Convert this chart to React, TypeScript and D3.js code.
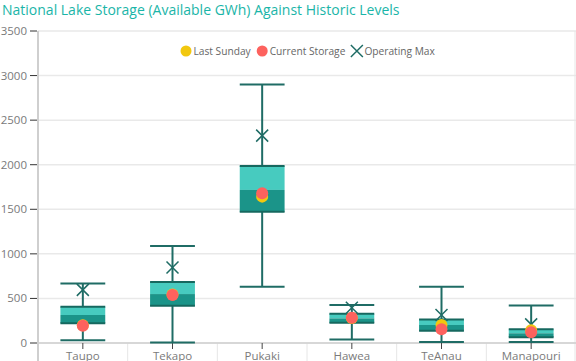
import React, { useEffect, useRef } from "react";
import * as d3 from "d3";

const lakes = ["Taupo", "Tekapo", "Pukaki", "Hawea", "TeAnau", "Manapouri"];
const whiskerMin = [30, 5, 632, 40, 11, 11];
const q1 = [221, 418, 1473, 227, 138, 64];
const medianVals = [314, 549, 1717, 276, 202, 109];
const q3 = [407, 685, 1986, 328, 265, 153];
const whiskerMax = [667, 1088, 2900, 426, 631, 422];
const lastSunday = [200, 545, 1642, 280, 202, 142];
const currentStorage = [194, 538, 1680, 283, 153, 120];
const operatingMax = [596, 848, 2326, 395, 314, 209];
const yTicks = [0, 500, 1000, 1500, 2000, 2500, 3000, 3500];
const legendItems = ["Last Sunday", "Current Storage", "Operating Max"];

const W = 576;
const H = 361;
const M = { left: 38, right: 0, top: 31, bottom: 18 };

const COL_LIGHT = "#47cbbf";
const COL_DARK = "#1b9489";
const COL_LINE = "#1f6c65";
const COL_RED = "#fd625e";
const COL_YEL = "#f2c80f";
const FONT = "'Open Sans', 'Noto Sans', sans-serif";

export default function App() {
  const ref = useRef<SVGSVGElement>(null);

  useEffect(() => {
    const svg = d3.select(ref.current);
    svg.selectAll("*").remove();

    const x = d3.scaleBand().domain(lakes).range([M.left, W - M.right]).padding(0);
    const y = d3.scaleLinear().domain([0, 3500]).range([H - M.bottom, M.top]);
    const bw = x.bandwidth() * 0.5;

    // title
    svg.append("text")
      .attr("x", 2).attr("y", 15)
      .attr("font-family", FONT).attr("font-size", 14)
      .attr("fill", "#1ab5a8")
      .text("National Lake Storage (Available GWh) Against Historic Levels");

    // gridlines
    svg.append("g").selectAll("line").data(yTicks).join("line")
      .attr("x1", M.left).attr("x2", W)
      .attr("y1", (d) => y(d)).attr("y2", (d) => y(d))
      .attr("stroke", "#e9e9e9").attr("stroke-width", 1.5);

    // separators below axis
    svg.append("g").selectAll("line").data(lakes.slice(1)).join("line")
      .attr("x1", (d) => x(d)!).attr("x2", (d) => x(d)!)
      .attr("y1", y(0)).attr("y2", H)
      .attr("stroke", "#e6e6e6").attr("stroke-width", 1);
    svg.append("line")
      .attr("x1", W - 1).attr("x2", W - 1).attr("y1", y(3500)).attr("y2", H)
      .attr("stroke", "#e6e6e6");

    // y axis
    const ya = svg.append("g");
    ya.append("line").attr("x1", M.left).attr("x2", M.left)
      .attr("y1", y(3500)).attr("y2", H)
      .attr("stroke", "#cfcfcf").attr("stroke-width", 2);
    ya.selectAll("line.t").data(yTicks).join("line").attr("class", "t")
      .attr("x1", 30).attr("x2", 37)
      .attr("y1", (d) => y(d)).attr("y2", (d) => y(d))
      .attr("stroke", "#333").attr("stroke-width", 1);
    ya.selectAll("text").data(yTicks).join("text")
      .attr("x", 27).attr("y", (d) => y(d))
      .attr("dy", "0.35em").attr("text-anchor", "end")
      .attr("font-family", FONT).attr("font-size", 11.5).attr("fill", "#7a7a7a")
      .text((d) => String(d));

    // x axis
    svg.append("line").attr("x1", M.left).attr("x2", W)
      .attr("y1", y(0)).attr("y2", y(0)).attr("stroke", "#cfcfcf").attr("stroke-width", 1.5);
    svg.append("g").selectAll("line").data(lakes).join("line")
      .attr("x1", (d) => x(d)! + x.bandwidth() / 2).attr("x2", (d) => x(d)! + x.bandwidth() / 2)
      .attr("y1", y(0)).attr("y2", y(0) + 6).attr("stroke", "#444");
    svg.append("g").selectAll("text").data(lakes).join("text")
      .attr("x", (d) => x(d)! + x.bandwidth() / 2).attr("y", 359.5)
      .attr("text-anchor", "middle")
      .attr("font-family", FONT).attr("font-size", 11.5).attr("fill", "#7a7a7a")
      .text((d) => d);

    // boxes
    const g = svg.append("g");
    lakes.forEach((lake, i) => {
      const cx = x(lake)! + x.bandwidth() / 2;
      const gg = g.append("g");
      gg.append("line").attr("x1", cx).attr("x2", cx)
        .attr("y1", y(whiskerMax[i])).attr("y2", y(whiskerMin[i]))
        .attr("stroke", COL_LINE).attr("stroke-width", 2);
      [whiskerMax[i], whiskerMin[i]].forEach((v) => {
        gg.append("line").attr("x1", cx - bw / 2).attr("x2", cx + bw / 2)
          .attr("y1", y(v)).attr("y2", y(v))
          .attr("stroke", COL_LINE).attr("stroke-width", 2);
      });
      gg.append("rect").attr("x", cx - bw / 2).attr("width", bw)
        .attr("y", y(q3[i])).attr("height", y(medianVals[i]) - y(q3[i]))
        .attr("fill", COL_LIGHT);
      gg.append("rect").attr("x", cx - bw / 2).attr("width", bw)
        .attr("y", y(medianVals[i])).attr("height", y(q1[i]) - y(medianVals[i]))
        .attr("fill", COL_DARK);
      [q3[i], q1[i]].forEach((v) => {
        gg.append("line").attr("x1", cx - bw / 2).attr("x2", cx + bw / 2)
          .attr("y1", y(v)).attr("y2", y(v))
          .attr("stroke", "#16685f").attr("stroke-width", 2);
      });
      const s = 6;
      const oy = y(operatingMax[i]);
      gg.append("path")
        .attr("d", `M${cx - s},${oy - s}L${cx + s},${oy + s}M${cx - s},${oy + s}L${cx + s},${oy - s}`)
        .attr("stroke", COL_LINE).attr("stroke-width", 1.5).attr("fill", "none");
      gg.append("circle").attr("cx", cx).attr("cy", y(lastSunday[i])).attr("r", 6)
        .attr("fill", COL_YEL);
      gg.append("circle").attr("cx", cx).attr("cy", y(currentStorage[i])).attr("r", 6)
        .attr("fill", COL_RED);
    });

    // legend
    const lg = svg.append("g");
    const items = lg.selectAll("g").data(legendItems).join("g");
    items.append("text").attr("x", 7.5).attr("y", 51).attr("dy", "0.35em")
      .attr("font-family", FONT).attr("font-size", 10.2).attr("fill", "#666")
      .text((d) => d);
    let cur = 186;
    const positions: number[] = [];
    items.each(function () {
      const t = d3.select(this).select("text").node() as SVGTextElement;
      positions.push(cur);
      cur += 7.5 + t.getComputedTextLength() + 11.5;
    });
    items.attr("transform", (_d, i) => `translate(${positions[i]},0)`);
    items.each(function (_d, i) {
      const gi = d3.select(this);
      if (i < 2) {
        gi.append("circle").attr("cx", 0).attr("cy", 51).attr("r", 5.5)
          .attr("fill", i === 0 ? COL_YEL : COL_RED);
      } else {
        gi.append("path").attr("d", "M-6,45L6,57M-6,57L6,45")
          .attr("stroke", COL_LINE).attr("stroke-width", 1.5);
      }
    });
  }, []);

  return (
    <svg
      ref={ref}
      width={W}
      height={H}
      style={{ position: "fixed", left: 0, top: 0, background: "#fff" }}
    />
  );
}
